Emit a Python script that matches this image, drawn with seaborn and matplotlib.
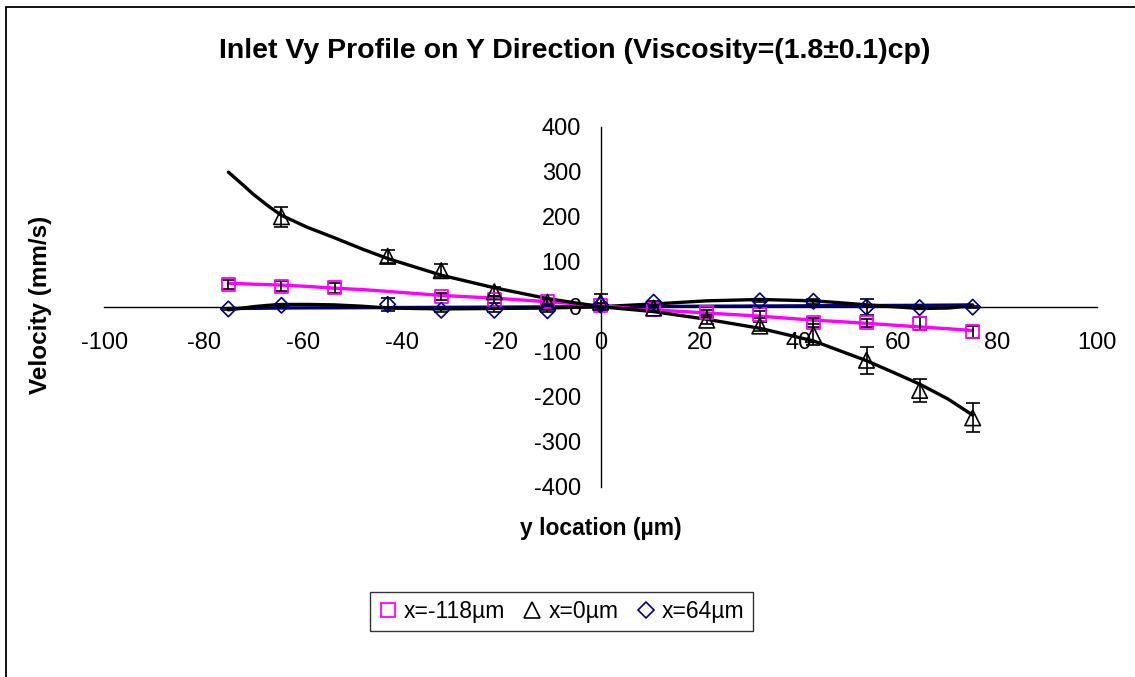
import numpy as np
import matplotlib
matplotlib.use("Agg")
import matplotlib.pyplot as plt
from matplotlib.lines import Line2D
from matplotlib.patches import Rectangle
import seaborn as sns

# y location of the measuring points (um)
y_loc = [-75, -64.3, -53.6, -42.9, -32.1, -21.4, -10.7, 0,
         10.7, 21.4, 32.1, 42.9, 53.6, 64.3, 75]

# measured Vy (mm/s) and error, nan = no point
v_m118 = [50, 45, 42, np.nan, 23, 16, 11, 3, -6, -13, -17, -35, -36, -37, -56]
e_m118 = [10, 11, 11, np.nan, 8, 8, 6, 6, 5, 6, 8, 10, 9, 14, 14]
v_0 = [np.nan, 200, np.nan, 112, 80, 33, 10, 10, -3, -30, -43, -62, -119, -186, -247]
e_0 = [np.nan, 22, np.nan, 15, 15, 10, 8, 18, 6, 8, 10, 24, 30, 26, 32]
v_64 = [-5, 3, np.nan, 5, -8, -8, -9, 4, 10, np.nan, 13, 12, -1, -2, -1]
e_64 = [3, 3, np.nan, 15, 3, 3, 3, 5, 3, np.nan, 3, 5, 18, 3, 3]

# trendlines as drawn in the chart
trend_x = [-75, -72, -70, -67, -64.3, -59, -53.6, -48, -42.9, -32.1, -21.4, -10.7, 0,
           10.7, 21.4, 32.1, 42.9, 48, 53.6, 59, 64.3, 70, 75]
trend_0 = [299, 270, 250, 224, 203, 176, 153, 128, 107, 70, 42, 18, 0,
           -11, -28, -48, -76, -97, -120, -146, -172, -205, -241]
trend_m118 = [52, 51, 50, 49, 48, 45, 41, 38, 34, 25, 19, 11, 2,
              -7, -14, -21, -30, -33, -37, -41, -45, -49, -53]
trend_64_poly = [-7, -3, 0, 3, 5, 5, 4, 1, -3, -5, -4, -3, 0,
                 6, 13, 16, 13, 9, 4, 0, -4, -3, 2]
trend_64_lin = [-4, -3.8, -3.7, -3.3, -3, -2.6, -2.5, -2.2, -2, -1.5, -1, -0.5, 0,
                0.5, 1, 1.5, 2, 2.3, 2.5, 2.8, 3, 3.5, 4]

labels = ["x=-118µm", "x=0µm", "x=64µm"]

sns.set_style("white")
plt.rcParams['font.family'] = ['Liberation Sans', 'DejaVu Sans']
plt.rcParams['axes.unicode_minus'] = False
plt.rcParams['text.color'] = 'black'

fig = plt.figure(figsize=(11.35, 6.77), dpi=100)
ax = fig.add_axes([0.0919, 0.2811, 0.8744, 0.5318])

# trendlines
sns.lineplot(x=trend_x, y=trend_64_lin, ax=ax, color="#000080", lw=2.4, sort=False)
sns.lineplot(x=trend_x, y=trend_64_poly, ax=ax, color="black", lw=2.4, sort=False)
sns.lineplot(x=trend_x, y=trend_m118, ax=ax, color="#FF00FF", lw=2.4, sort=False)
sns.lineplot(x=trend_x, y=trend_0, ax=ax, color="black", lw=2.4, sort=False)

# error bars
for v, e in [(v_m118, e_m118), (v_0, e_0), (v_64, e_64)]:
    ax.errorbar(y_loc, v, yerr=e, fmt='none', ecolor='black',
                elinewidth=1.2, capsize=5, capthick=1.2)

# markers
sns.scatterplot(x=y_loc, y=v_m118, ax=ax, marker='s', s=85,
                facecolor='none', edgecolor="#FF00FF", linewidth=1.3, zorder=5)
sns.scatterplot(x=y_loc, y=v_0, ax=ax, marker='^', s=125,
                facecolor='none', edgecolor="black", linewidth=1.2, zorder=5)
sns.scatterplot(x=y_loc, y=v_64, ax=ax, marker='D', s=62,
                facecolor='none', edgecolor="#000080", linewidth=1.2, zorder=5)

ax.set_xlim(-100, 100)
ax.set_ylim(-400, 400)
ax.set_xticks(range(-100, 101, 20))
ax.set_yticks(range(-400, 401, 100))
for s in ['top', 'right']:
    ax.spines[s].set_visible(False)
ax.spines['left'].set_position(('data', 0))
ax.spines['bottom'].set_position(('data', 0))
for s in ['left', 'bottom']:
    ax.spines[s].set_color('black')
    ax.spines[s].set_linewidth(1.0)
ax.tick_params(axis='x', direction='out', length=6, width=1.0, pad=12,
               labelsize=17, colors='black')
ax.tick_params(axis='y', direction='out', length=6, width=1.0, pad=8,
               labelsize=17, colors='black')
ax.set_facecolor('none')

fig.text(0.5066, 0.924, "Inlet Vy Profile on Y Direction (Viscosity=(1.8±0.1)cp)",
         ha='center', va='center', fontsize=20.5, fontweight='bold')
fig.text(0.036, 0.549, "Velocity (mm/s)", rotation=90, ha='center', va='center',
         fontsize=17.5, fontweight='bold')
fig.text(0.5295, 0.22, "y location (µm)", ha='center', va='center',
         fontsize=16.5, fontweight='bold')

handles = [
    Line2D([], [], ls='none', marker='s', ms=10, mfc='none', mec="#FF00FF", mew=1.3),
    Line2D([], [], ls='none', marker='^', ms=11, mfc='none', mec="black", mew=1.2),
    Line2D([], [], ls='none', marker='D', ms=8, mfc='none', mec="#000080", mew=1.2),
]
leg = fig.legend(handles, labels, loc='center', bbox_to_anchor=(0.4947, 0.0967),
                 ncol=3, fontsize=16.5, frameon=True, fancybox=False,
                 handlelength=0.8, handletextpad=0.3, columnspacing=0.8,
                 borderpad=0.35, edgecolor='black')
leg.get_frame().set_linewidth(1.0)

# chart area border
fig.patches.append(Rectangle((0.0053, -0.1), 1.2, 1.089, transform=fig.transFigure,
                             fill=False, edgecolor='black', lw=1.3))

fig.savefig("out.png", dpi=100)
